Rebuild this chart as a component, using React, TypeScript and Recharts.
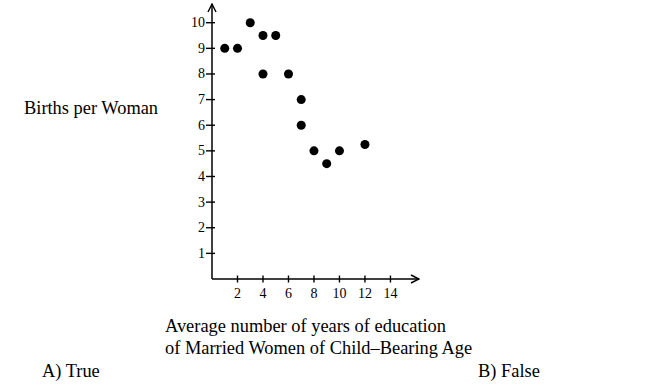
import React from 'react';
import { ScatterChart, Scatter, XAxis, YAxis, ZAxis } from 'recharts';

const years = [1, 2, 3, 4, 5, 4, 6, 7, 7, 8, 9, 10, 12];
const births = [9, 9, 10, 9.5, 9.5, 8, 8, 7, 6, 5, 4.5, 5, 5.25];
const xTicks = [2, 4, 6, 8, 10, 12, 14];
const yTicks = [1, 2, 3, 4, 5, 6, 7, 8, 9, 10];

const data = years.map((x, i) => ({ x, y: births[i] }));

const font = '"Liberation Serif", "DejaVu Serif", serif';

const XTick = (props: any) => {
  const { x, y, payload } = props;
  return (
    <g>
      <line x1={x} x2={x} y1={y - 3.5} y2={y + 3.5} stroke="#000" strokeWidth={1.4} />
      <text x={x} y={y + 19} textAnchor="middle" fontFamily={font} fontSize={14} fill="#000">
        {payload.value}
      </text>
    </g>
  );
};

const YTick = (props: any) => {
  const { x, y, payload } = props;
  return (
    <g>
      <line x1={x - 6} x2={x + 3} y1={y} y2={y} stroke="#000" strokeWidth={1.4} />
      <text x={x - 7} y={y + 4.5} textAnchor="end" fontFamily={font} fontSize={14} fill="#000">
        {payload.value}
      </text>
    </g>
  );
};

const textStyle: React.CSSProperties = {
  position: 'absolute',
  fontFamily: font,
  whiteSpace: 'nowrap',
  lineHeight: 1,
  color: '#000',
  fontSize: 18.4,
};

export default function App() {
  return (
    <div style={{ position: 'absolute', left: 0, top: 0, width: 650, height: 388, background: '#fff' }}>
      <svg width={0} height={0} style={{ position: 'absolute' }}>
        <defs>
          <marker
            id="arrowHead"
            viewBox="0 0 10 10"
            refX={9}
            refY={5}
            markerWidth={10}
            markerHeight={10}
            markerUnits="userSpaceOnUse"
            orient="auto-start-reverse"
          >
            <path d="M1,1 L9,5 L1,9" fill="none" stroke="#000" strokeWidth={1.4} />
          </marker>
        </defs>
      </svg>
      <ScatterChart width={650} height={388} margin={{ top: 4, right: 231, bottom: 108, left: 211 }}>
        <XAxis
          type="number"
          dataKey="x"
          domain={[0, 16.24]}
          ticks={xTicks}
          interval={0}
          height={1}
          tickSize={0}
          tickMargin={0}
          tickLine={false}
          tick={<XTick />}
          axisLine={{ stroke: '#000', strokeWidth: 1.5, markerEnd: 'url(#arrowHead)' } as any}
          allowDataOverflow
        />
        <YAxis
          type="number"
          dataKey="y"
          domain={[0, 10.73]}
          ticks={yTicks}
          interval={0}
          width={1}
          tickSize={0}
          tickMargin={0}
          tickLine={false}
          tick={<YTick />}
          axisLine={{ stroke: '#000', strokeWidth: 1.5, markerStart: 'url(#arrowHead)' } as any}
          allowDataOverflow
        />
        <ZAxis range={[38, 38]} />
        <Scatter data={data} fill="#000" isAnimationActive={false} />
      </ScatterChart>
      <div style={{ ...textStyle, left: 24, top: 99 }}>Births per Woman</div>
      <div style={{ ...textStyle, left: 165, top: 317 }}>Average number of years of education</div>
      <div style={{ ...textStyle, left: 165, top: 339 }}>of Married Women of Child–Bearing Age</div>
      <div style={{ ...textStyle, left: 42, top: 362 }}>A) True</div>
      <div style={{ ...textStyle, left: 478, top: 362 }}>B) False</div>
    </div>
  );
}
